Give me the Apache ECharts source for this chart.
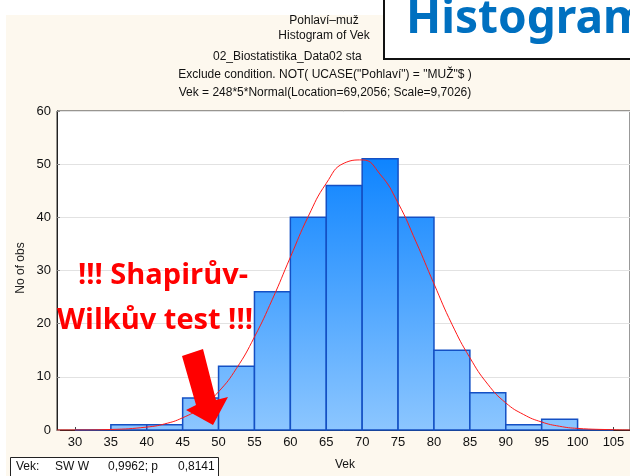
<!DOCTYPE html>
<html>
<head>
<meta charset="utf-8">
<script src="https://cdn.jsdelivr.net/npm/echarts@6/dist/echarts.min.js"></script>
<style>
  html, body { margin: 0; padding: 0; background: #fff; }
  #main { width: 630px; height: 476px; }
</style>
</head>
<body>
<div id="main"></div>
<script>
// histogram bins (Vek) and counts
var binStarts = [30, 35, 40, 45, 50, 55, 60, 65, 70, 75, 80, 85, 90, 95, 100];
var binWidth = 5;
var counts = [0, 1, 1, 6, 12, 26, 40, 46, 51, 40, 15, 7, 1, 2, 0];
// fitted normal curve
var curveX = [27.5, 30, 35, 40, 42.5, 45, 47.5, 50, 52.5, 55, 57.5, 60, 62.5, 65, 67.5, 70, 72.5, 75, 77.5, 80, 82.5, 85, 87.5, 90, 92.5, 95, 97.5, 100, 105, 107.3];
var curveY = [0, 0, 0.1, 0.55, 1.15, 2.3, 4.2, 7.2, 11.6, 17.5, 24.6, 32.5, 40.2, 46.4, 50.2, 50.8, 48.1, 42.7, 35.4, 27.5, 19.9, 13.6, 8.6, 5.1, 2.9, 1.5, 0.7, 0.3, 0.05, 0];
var xTicks = [30, 35, 40, 45, 50, 55, 60, 65, 70, 75, 80, 85, 90, 95, 100, 105];

var chart = echarts.init(document.getElementById('main'));

var barData = binStarts.map(function (s, i) { return [s, s + binWidth, counts[i]]; });
var curveData = curveX.map(function (x, i) { return [x, curveY[i]]; });

// plain text at (x, y), y is the middle of the line
function t(x, y, s, align) {
    return { type: 'text', x: x, y: y, z: 20,
        style: { text: s, textAlign: align || 'left', textVerticalAlign: 'middle',
                 fontFamily: 'Liberation Sans', fontSize: 12, fill: '#111' } };
}
function red(x, y, s) {
    return { type: 'text', x: x, y: y, z: 40,
        style: { text: s, textAlign: 'center', textVerticalAlign: 'middle',
                 fontFamily: 'Open Sans', fontWeight: 'bold', fontSize: 29, fill: '#ff0000' } };
}

var option = {
    backgroundColor: '#fff',
    animation: false,
    grid: { left: 57, top: 111, right: 0, bottom: 46, show: true,
        backgroundColor: '#fff', borderColor: '#333', borderWidth: 1 },
    xAxis: {
        type: 'value', min: 27.5, max: 107.3,
        axisLine: { show: true, lineStyle: { color: '#222' } },
        axisTick: { show: true, inside: true, length: 3, customValues: xTicks, lineStyle: { color: '#444' } },
        axisLabel: { customValues: xTicks, color: '#111', fontSize: 13, fontFamily: 'Liberation Sans', margin: 6 },
        splitLine: { show: false }
    },
    yAxis: {
        type: 'value', min: 0, max: 60, interval: 10,
        axisLine: { show: true, lineStyle: { color: '#222' } },
        axisTick: { show: true, inside: true, length: 3, lineStyle: { color: '#888' } },
        axisLabel: { color: '#111', fontSize: 13, fontFamily: 'Liberation Sans', margin: 6 },
        splitLine: { show: true, lineStyle: { color: '#e2e2e2' } }
    },
    series: [
        {
            type: 'custom',
            data: barData,
            z: 2,
            renderItem: function (params, api) {
                var p0 = api.coord([api.value(0), api.value(2)]);
                var p1 = api.coord([api.value(1), 0]);
                return {
                    type: 'rect',
                    shape: { x: p0[0], y: p0[1], width: p1[0] - p0[0], height: p1[1] - p0[1] },
                    style: {
                        fill: new echarts.graphic.LinearGradient(0, 150, 0, 430, [
                            { offset: 0, color: '#0a82ff' },
                            { offset: 1, color: '#8cc6ff' }
                        ], true),
                        stroke: '#1450c4',
                        lineWidth: 1.5
                    }
                };
            }
        },
        {
            type: 'line',
            data: curveData,
            smooth: true,
            showSymbol: false,
            z: 3,
            lineStyle: { color: '#ff1a1a', width: 1 }
        }
    ],
    graphic: [
        // cream panel
        { type: 'rect', left: 6, top: 15, z: -10, shape: { width: 624, height: 461 }, style: { fill: '#fdf8ee' } },
        t(324, 21, 'Pohlaví–muž', 'center'),
        t(324, 36, 'Histogram of Vek', 'center'),
        t(213, 57, '02_Biostatistika_Data02 sta'),
        t(325, 75, 'Exclude condition. NOT( UCASE("Pohlaví") = "MUŽ"$ )', 'center'),
        t(325, 93, 'Vek = 248*5*Normal(Location=69,2056; Scale=9,7026)', 'center'),
        // overlay box
        { type: 'rect', left: 383, top: -3, z: 30, shape: { width: 260, height: 61 },
          style: { fill: '#fff', stroke: '#111', lineWidth: 2 } },
        { type: 'text', left: 406, top: -3, z: 31,
          style: { text: 'Histogram', fontFamily: 'Noto Sans', fontWeight: 'bold', fontSize: 46, fill: '#0070c0' } },
        // axis names
        t(345, 465, 'Vek', 'center'),
        { type: 'text', x: 21, y: 268, z: 20, rotation: Math.PI / 2,
          style: { text: 'No of obs', textAlign: 'center', textVerticalAlign: 'middle',
                   fontFamily: 'Liberation Sans', fontSize: 12, fill: '#222' } },
        // SW test box
        { type: 'rect', left: 10, top: 457, z: 20, shape: { width: 208, height: 24 },
          style: { fill: '#fff', stroke: '#222', lineWidth: 1 } },
        t(16, 467, 'Vek:'),
        t(55, 467, 'SW W'),
        t(108, 467, '0,9962; p'),
        t(178, 467, '0,8141'),
        // red annotation
        red(163, 276, '!!! Shapirův-'),
        red(155, 321, 'Wilkův test !!!'),
        { type: 'polygon', z: 40,
          shape: { points: [[182, 356], [203, 349], [216, 400], [228, 397], [213, 425], [186, 410], [196, 405]] },
          style: { fill: '#ff0000' } }
    ]
};

chart.setOption(option);
</script>
</body>
</html>
